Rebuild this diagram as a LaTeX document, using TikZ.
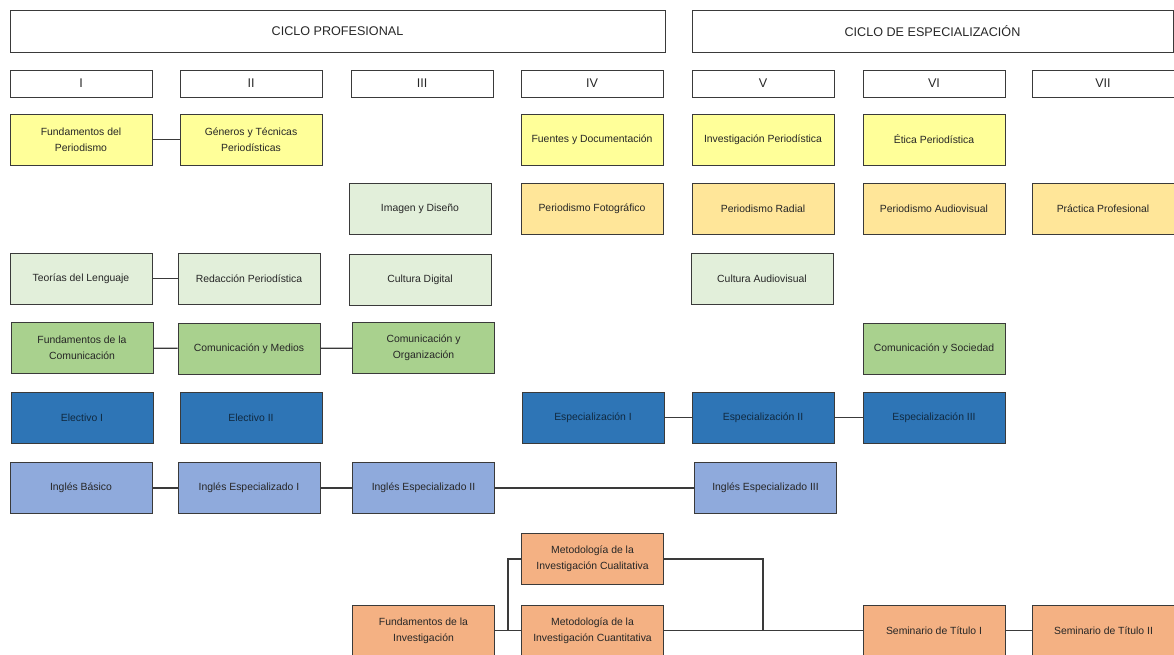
\documentclass[tikz,border=0pt]{standalone}
\usepackage{fontspec}
\setmainfont{Liberation Sans}
\usetikzlibrary{positioning}

\definecolor{amarillo}{HTML}{FFFF99}
\definecolor{dorado}{HTML}{FFE699}
\definecolor{verdeclaro}{HTML}{E2EFDA}
\definecolor{verde}{HTML}{A9D18E}
\definecolor{azul}{HTML}{2E75B6}
\definecolor{celeste}{HTML}{8FAADC}
\definecolor{salmon}{HTML}{F4B183}
\definecolor{linea}{HTML}{3A3A3A}

\begin{document}
\begin{tikzpicture}[
  x=1pt, y=-1pt,
  curso/.style={rectangle,draw=linea,line width=0.9pt,minimum width=142pt,minimum height=51pt,
    align=center,text=black!85,font=\fontsize{10.4}{16}\selectfont,inner sep=1pt},
  titulo/.style={rectangle,draw=linea,line width=0.9pt,align=center,text=black!85,
    font=\fontsize{12.6}{14}\selectfont},
  ramo/.style={linea,line width=1.2pt}
]

\useasboundingbox (0,0) rectangle (1174,655);

% ciclos
\node[titulo,minimum width=655pt,minimum height=42pt] (cp) at (337.5,31) {CICLO PROFESIONAL};
\node[titulo,minimum width=481pt,minimum height=42pt] (ce) at (932.5,31) {CICLO DE ESPECIALIZACIÓN};

% semestres
\foreach \n/\x in {I/81,II/251,III/422,IV/592,V/763,VI/934,VII/1103}
  \node[titulo,minimum width=142pt,minimum height=27pt] (sem\n) at (\x,83.5) {\n};

% fila 1
\node[curso,fill=amarillo] (fp) at (81,139.5) {Fundamentos del\\Periodismo};
\node[curso,fill=amarillo] (gtp) at (251,139.5) {Géneros y Técnicas\\Periodísticas};
\node[curso,fill=amarillo] (fd) at (592,139.5) {Fuentes y Documentación};
\node[curso,fill=amarillo] (ip) at (763,139.5) {Investigación Periodística};
\node[curso,fill=amarillo] (ep) at (934,139.5) {Ética Periodística};

% fila 2
\node[curso,fill=verdeclaro] (id) at (420,209) {Imagen y Diseño};
\node[curso,fill=dorado] (pf) at (592,209) {Periodismo Fotográfico};
\node[curso,fill=dorado] (pr) at (763,209) {Periodismo Radial};
\node[curso,fill=dorado] (pa) at (934,209) {Periodismo Audiovisual};
\node[curso,fill=dorado] (pp) at (1103,209) {Práctica Profesional};

% fila 3
\node[curso,fill=verdeclaro] (tl) at (81,278.5) {Teorías del Lenguaje};
\node[curso,fill=verdeclaro] (rp) at (249,278.5) {Redacción Periodística};
\node[curso,fill=verdeclaro] (cd) at (420,279.5) {Cultura Digital};
\node[curso,fill=verdeclaro] (ca) at (762,278.5) {Cultura Audiovisual};

% fila 4
\node[curso,fill=verde] (fc) at (82,348) {Fundamentos de la\\Comunicación};
\node[curso,fill=verde] (cm) at (249,348.5) {Comunicación y Medios};
\node[curso,fill=verde] (co) at (423.5,348) {Comunicación y\\Organización};
\node[curso,fill=verde] (cs) at (934,348.5) {Comunicación y Sociedad};

% fila 5
\node[curso,fill=azul,text=azul!35!black] (e1) at (82,417.5) {Electivo I};
\node[curso,fill=azul,text=azul!35!black] (e2) at (251,417.5) {Electivo II};
\node[curso,fill=azul,text=azul!35!black] (es1) at (593,417.5) {Especialización I};
\node[curso,fill=azul,text=azul!35!black] (es2) at (763,417.5) {Especialización II};
\node[curso,fill=azul,text=azul!35!black] (es3) at (934,417.5) {Especialización III};

% fila 6
\node[curso,fill=celeste] (ib) at (81,488) {Inglés Básico};
\node[curso,fill=celeste] (ie1) at (249,488) {Inglés Especializado I};
\node[curso,fill=celeste] (ie2) at (423.5,488) {Inglés Especializado II};
\node[curso,fill=celeste] (ie3) at (765.5,488) {Inglés Especializado III};

% investigacion
\node[curso,fill=salmon] (mcl) at (592.5,559) {Metodología de la\\Investigación Cualitativa};
\node[curso,fill=salmon] (fi) at (423.5,630.5) {Fundamentos de la\\Investigación};
\node[curso,fill=salmon] (mcn) at (592.5,630.5) {Metodología de la\\Investigación Cuantitativa};
\node[curso,fill=salmon] (st1) at (934,630.5) {Seminario de Título I};
\node[curso,fill=salmon] (st2) at (1103.5,630.5) {Seminario de Título II};

\coordinate (jl) at (508,630.5);
\coordinate (jr) at (763,630.5);

% conexiones
\draw[ramo] (fp) -- (gtp);
\draw[ramo] (tl) -- (rp);
\draw[ramo] (fc) -- (cm) -- (co);
\draw[ramo] (es1) -- (es2) -- (es3);
\draw[ramo] (ib) -- (ie1) -- (ie2) -- (ie3);
\draw[ramo] (fi) -- (mcn);
\draw[ramo] (jl) |- (mcl.west);
\draw[ramo] (mcl.east) -| (jr);
\draw[ramo] (mcn) -- (st1);
\draw[ramo] (st1) -- (st2);

\end{tikzpicture}
\end{document}
